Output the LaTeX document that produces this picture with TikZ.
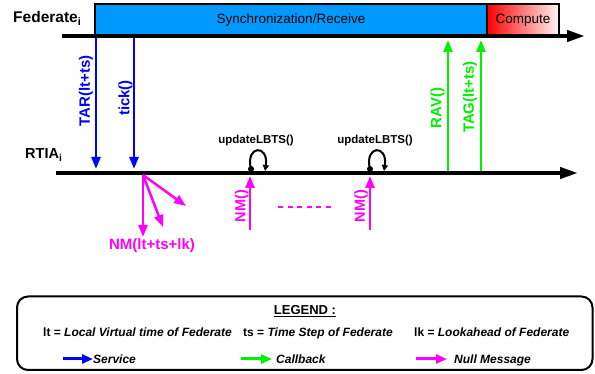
\documentclass[tikz,border=0pt]{standalone}
\usepackage{fontspec}
\setmainfont{Liberation Sans}
\usetikzlibrary{arrows.meta}

\definecolor{syncblue}{RGB}{0,153,255}
\definecolor{srvblue}{RGB}{0,0,255}
\definecolor{cbgreen}{RGB}{0,240,0}
\definecolor{nmpink}{RGB}{255,0,255}

\tikzset{
  timeline/.style={line width=4pt,-{Triangle[length=18pt,width=11pt]}},
  msg/.style={line width=2.5pt,-{Triangle[length=12pt,width=9pt]}},
  legarrow/.style={line width=3pt,-{Triangle[length=11pt,width=9pt]}},
  phase/.style={draw,line width=1.8pt,inner sep=0pt,font=\fontsize{13.5}{15}\selectfont},
  msglabel/.style={rotate=90,inner sep=0pt,font=\fontsize{15}{17}\selectfont\bfseries},
  selfloop/.style={line width=2pt,-{Triangle[length=6pt,width=6pt]}},
  legtext/.style={inner sep=0pt,font=\fontsize{12}{14}\selectfont\bfseries}
}

\begin{document}
\begin{tikzpicture}[x=1pt,y=-1pt]
      \useasboundingbox (0,0) rectangle (595,374);

      % federate side
      \node[phase,fill=syncblue,minimum width=392pt,minimum height=32pt] (sync) at (291,20) {Synchronization/Receive};
      \node[phase,left color=red,right color=red!4,minimum width=72pt,minimum height=32pt] (compute) at (523,20) {Compute};
      \coordinate (fedL) at (62,36);
      \coordinate (fedR) at (585,36);
      \draw[timeline] (fedL) -- (fedR);
      \node[anchor=base west,inner sep=0pt,font=\fontsize{15.5}{17}\selectfont\bfseries] (fedname) at (13,22.5) {Federate\textsubscript{i}};

      % rtia side
      \coordinate (rtiL) at (56,173);
      \coordinate (rtiR) at (578,173);
      \draw[timeline] (rtiL) -- (rtiR);
      \node[anchor=base west,inner sep=0pt,font=\fontsize{14.5}{16}\selectfont\bfseries] (rtiname) at (25,159) {RTIA\textsubscript{i}};

      % services
      \coordinate (tarS) at (96,38);  \coordinate (tarE) at (96,169);
      \coordinate (tickS) at (134,38); \coordinate (tickE) at (134,169);
      \draw[msg,srvblue] (tarS) -- (tarE);
      \draw[msg,srvblue] (tickS) -- (tickE);
      \node[msglabel,text=srvblue] (tarlbl) at (86,91) {TAR(lt+ts)};
      \node[msglabel,text=srvblue] (ticklbl) at (125.5,98) {tick()};

      % callbacks
      \coordinate (ravS) at (448,171); \coordinate (ravE) at (448,40);
      \coordinate (tagS) at (481,171); \coordinate (tagE) at (481,40);
      \draw[msg,cbgreen] (ravS) -- (ravE);
      \draw[msg,cbgreen] (tagS) -- (tagE);
      \node[msglabel,text=cbgreen] (ravlbl) at (437.5,108) {RAV()};
      \node[msglabel,text=cbgreen] (taglbl) at (470,97) {TAG(lt+ts)};

      % null messages sent
      \coordinate (fan) at (143,175);
      \coordinate (fanA) at (143,237);
      \coordinate (fanB) at (163,227);
      \coordinate (fanC) at (186,206);
      \draw[msg,nmpink] (fan) -- (fanA);
      \draw[msg,nmpink] (fan) -- (fanB);
      \draw[msg,nmpink] (fan) -- (fanC);
      \node[inner sep=0pt,text=nmpink,font=\fontsize{15}{17}\selectfont\bfseries] (fanlbl) at (152,246) {NM(lt+ts+lk)};

      % null messages received
      \coordinate (nmoneS) at (250,230); \coordinate (nmoneE) at (250,176);
      \coordinate (nmtwoS) at (370,230); \coordinate (nmtwoE) at (370,176);
      \draw[msg,nmpink] (nmoneS) -- (nmoneE);
      \draw[msg,nmpink] (nmtwoS) -- (nmtwoE);
      \node[msglabel,text=nmpink,font=\fontsize{14.5}{16}\selectfont\bfseries] (nmonelbl) at (241.5,206) {NM()};
      \node[msglabel,text=nmpink,font=\fontsize{14.5}{16}\selectfont\bfseries] (nmtwolbl) at (361,206) {NM()};
      \coordinate (gapL) at (278,207);
      \coordinate (gapR) at (331,207);
      \draw[nmpink,line width=2.5pt,dash pattern=on 5pt off 4.5pt] (gapL) -- (gapR);

      % lbts updates
      \fill (251,169) circle (3pt);
      \draw[selfloop] (251,169) .. controls (245,145) and (269,144) .. (265,171);
      \node[inner sep=0pt,font=\fontsize{11.5}{13}\selectfont\bfseries] (lbtsone) at (256,141) {updateLBTS()};
      \fill (370,169) circle (3pt);
      \draw[selfloop] (370,169) .. controls (364,145) and (388,144) .. (384,171);
      \node[inner sep=0pt,font=\fontsize{11.5}{13}\selectfont\bfseries] (lbtstwo) at (375,141) {updateLBTS()};

      % legend
      \draw[line width=2pt,rounded corners=11pt] (17,296.5) rectangle (592.5,370);
      \node[legtext,font=\fontsize{13}{15}\selectfont\bfseries] (legtitle) at (305,311) {\underline{LEGEND :}};
      \node[legtext,anchor=base west] (ltdef) at (43,337) {lt = \textit{Local Virtual time of Federate}};
      \node[legtext,anchor=base west] (tsdef) at (243,337) {ts = \textit{Time Step of Federate}};
      \node[legtext,anchor=base west] (lkdef) at (414,337) {lk = \textit{Lookahead of Federate}};
      \coordinate (srvS) at (63,359);
      \coordinate (cbS) at (241,359);
      \coordinate (nmS) at (416,359);
      \node[legtext,anchor=base west] (srvtxt) at (93,363) {\textit{Service}};
      \node[legtext,anchor=base west] (cbtxt) at (276,363) {\textit{Callback}};
      \node[legtext,anchor=base west] (nmtxt) at (454,363) {\textit{Null Message}};
      \draw[legarrow,srvblue] (srvS) -- (srvtxt.west |- srvS);
      \draw[legarrow,cbgreen] (cbS) -- ([xshift=-4pt]cbtxt.west |- cbS);
      \draw[legarrow,nmpink] (nmS) -- ([xshift=-7pt]nmtxt.west |- nmS);
\end{tikzpicture}
\end{document}
